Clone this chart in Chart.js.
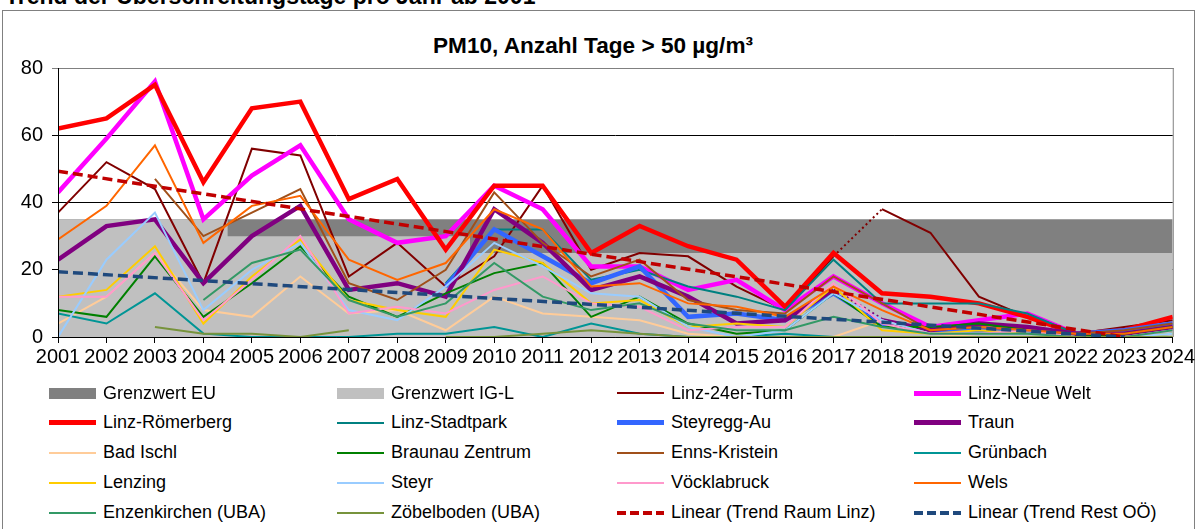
<!DOCTYPE html>
<html lang="de">
<head>
<meta charset="utf-8">
<title>PM10, Anzahl Tage &gt; 50 µg/m³</title>
<script src="https://cdn.jsdelivr.net/npm/chart.js@4.4.1/dist/chart.umd.min.js"></script>
<style>
  html, body { margin: 0; padding: 0; background: #fff; }
  body { width: 1197px; height: 529px; overflow: hidden; position: relative; font-family: "Liberation Sans", Arial, sans-serif; color: #000; }
  #heading { position: absolute; left: 5px; top: -17px; font-size: 23px; font-weight: bold; white-space: nowrap; }
  #frame { position: absolute; left: 2px; top: 10px; width: 1191px; height: 540px; border: 1px solid #808080; }
  #title { position: absolute; left: 0; width: 1186px; top: 33px; text-align: center; font-size: 22.6px; font-weight: bold; white-space: nowrap; }
  #chart { position: absolute; left: 0; top: 0; }
  .item { position: absolute; display: flex; align-items: center; height: 30px; font-size: 18px; white-space: nowrap; }
  .sym { display: inline-block; width: 47px; margin-right: 7px; }
</style>
</head>
<body>
<div id="heading">Trend der Überschreitungstage pro Jahr ab 2001</div>
<div id="frame"></div>
<div id="title">PM10, Anzahl Tage &gt; 50 µg/m³</div>
<canvas id="chart" width="1197" height="380"></canvas>
<div id="legend"></div>
<script>
const years = [2001, 2002, 2003, 2004, 2005, 2006, 2007, 2008, 2009, 2010, 2011, 2012,
  2013, 2014, 2015, 2016, 2017, 2018, 2019, 2020, 2021, 2022, 2023, 2024]

// limit values (days per year)
const grenzwertEU = [35, 35, 35, 35, 35, 35, 35, 35, 35, 35, 35, 35, 35, 35, 35, 35, 35, 35, 35, 35, 35, 35, 35, 35]
const grenzwertIGL = [35, 35, 35, 35, 30, 30, 30, 30, 30, 25, 25, 25, 25, 25, 25, 25, 25, 25, 25, 25, 25, 25, 25, 25]

// stations
const linz24erTurm = [37, 52, 44, 16, 56, 54, 18, 28, 15, 24, 45, 20, 25, 24, 15, 8, 24, 38, 31, 12, 6, 1, 3, 5]
const linzNeueWelt = [43, 59, 76, 35, 48, 57, 35, 28, 30, 45, 38, 21, 21, 14, 17, 8, 18, 10, 3, 5, 7, 1, 1, 3]
const linzRoemerberg = [62, 65, 75, 46, 68, 70, 41, 47, 26, 45, 45, 25, 33, 27, 23, 9, 25, 13, 12, 10, 6, 1, 2, 6]
const linzStadtpark = [null, null, null, null, null, null, null, null, 16, 32, 32, 17, 20, 15, 12, 8, 23, 10, 10, 10, 7, 1, 1, 3]
const steyreggAu = [null, null, null, null, null, null, null, null, 15, 32, 24, 16, 21, 6, 7, 5, 13, 4, 2, 2, 2, 1, 2, 4]
const traun = [23, 33, 35, 16, 30, 39, 14, 16, 12, 38, 28, 14, 18, 12, 4, 5, 14, 5, 2, 4, 3, 1, 1, 3]
const badIschl = [4, 12, 25, 8, 6, 18, 7, 8, 2, 12, 7, 6, 5, 1, 0, 0, 0, 5, 1, 0, 0, 0, 0, 0]
const braunauZentrum = [8, 6, 24, 6, 16, 27, 12, 6, 13, 19, 22, 6, 12, 4, 1, 2, 13, 3, 3, 4, 2, 0, 1, 3]
const ennsKristein = [null, null, 47, 30, 37, 44, 16, 11, 20, 43, 28, 18, 23, 11, 8, 7, 18, 10, 2, 3, 2, 1, 2, 4]
const gruenbach = [7, 4, 13, 1, 0, 0, 0, 1, 1, 3, 0, 4, 1, 0, 0, 1, 0, 0, 0, 0, 0, 0, 0, 1]
const lenzing = [12, 14, 27, 4, 18, 29, 11, 8, 6, 26, 22, 10, 11, 3, 4, 3, 15, 2, 1, 2, 1, 0, 0, 1]
const steyr = [0, 23, 37, 8, 20, 28, 8, 5, 15, 28, 21, 13, 12, 3, 0, 2, 13, 5, 1, 1, 1, 0, 0, 1]
const voecklabruck = [12, 12, 25, 5, 17, 30, 7, 9, 7, 14, 18, 10, 9, 2, 3, 3, 16, 4, 1, 1, 2, 0, 0, 2]
const wels = [29, 39, 57, 28, 39, 42, 23, 17, 22, 38, 32, 15, 16, 10, 9, 6, 15, 8, 2, 3, 2, 1, 1, 3]
const enzenkirchen = [null, null, null, 11, 22, 26, 11, 6, 10, 22, 12, 8, 10, 4, 2, 2, 6, 3, 1, 1, 1, 0, 0, 2]
const zoebelboden = [null, null, 3, 1, 1, 0, 2, null, 0, 0, 1, 2, 1, 0, 0, 0, 0, 0, 0, 0, 0, 0, 0, 0]

// linear trends, start and end point
const trendYears = [2001, 2023]
const trendRaumLinz = [49.3, 0]
const trendRestOOe = [19.4, 0]

const yTicks = [0, 20, 40, 60, 80]

const thin = 2
const thick = 4.5
const legendColumns = [49, 337, 617, 914]

const line = (label, data, color, width, extra = {}) => ({
  label: label,
  data: data,
  borderColor: color,
  backgroundColor: color,
  borderWidth: width,
  pointRadius: 0,
  tension: 0,
  fill: false,
  ...extra,
})

const area = (label, data, color) => ({
  label: label,
  data: data,
  borderWidth: 0,
  borderColor: color,
  backgroundColor: color,
  pointRadius: 0,
  stepped: "middle",
  fill: "origin",
})

// dotted segment after the given point index
const dottedAfter = index => ({ borderDash: ctx => ctx.p0DataIndex === index ? [2, 3] : undefined })

const trend = (label, values, color) => line(label, trendYears.map((x, i) => ({ x: x, y: values[i] })), color, 3.5, {
  borderDash: [10, 5],
  borderCapStyle: "butt",
})

const datasets = [
  area("Grenzwert EU", grenzwertEU, "#808080"),
  area("Grenzwert IG-L", grenzwertIGL, "#C0C0C0"),
  line("Linz-24er-Turm", linz24erTurm, "#800000", thin, { segment: dottedAfter(16) }),
  line("Linz-Neue Welt", linzNeueWelt, "#FF00FF", thick),
  line("Linz-Römerberg", linzRoemerberg, "#FF0000", thick),
  line("Linz-Stadtpark", linzStadtpark, "#008080", thin),
  line("Steyregg-Au", steyreggAu, "#3366FF", thick),
  line("Traun", traun, "#800080", thick, { segment: dottedAfter(16) }),
  line("Bad Ischl", badIschl, "#FFCC99", thin),
  line("Braunau Zentrum", braunauZentrum, "#008000", thin),
  line("Enns-Kristein", ennsKristein, "#A0501A", thin),
  line("Grünbach", gruenbach, "#009595", thin),
  line("Lenzing", lenzing, "#FFCC00", thin),
  line("Steyr", steyr, "#99CCFF", thin),
  line("Vöcklabruck", voecklabruck, "#FF99CC", thin),
  line("Wels", wels, "#FF6600", thin),
  line("Enzenkirchen (UBA)", enzenkirchen, "#339966", thin),
  line("Zöbelboden (UBA)", zoebelboden, "#77933C", thin),
  trend("Linear (Trend Raum Linz)", trendRaumLinz, "#C00000"),
  trend("Linear (Trend Rest OÖ)", trendRestOOe, "#1F497D"),
]

// later series are painted on top, like in the spreadsheet
datasets.forEach((ds, i) => { ds.order = datasets.length - i })

const plotFrame = {
  id: "plotFrame",
  beforeDatasetsDraw(chart) {
    const { ctx, chartArea: { left, right, top, bottom } } = chart
    ctx.save()
    ctx.lineWidth = 1
    ctx.strokeStyle = "#808080"
    ctx.beginPath()
    ctx.moveTo(left, top + 0.5)
    ctx.lineTo(right + 1, top + 0.5)
    ctx.moveTo(right + 0.5, top)
    ctx.lineTo(right + 0.5, bottom)
    ctx.stroke()
    ctx.restore()
  },
  afterDatasetsDraw(chart) {
    const { ctx, chartArea: { left, top, bottom } } = chart
    ctx.save()
    ctx.lineWidth = 1
    ctx.strokeStyle = "#000"
    ctx.beginPath()
    ctx.moveTo(left + 0.5, top)
    ctx.lineTo(left + 0.5, bottom + 1)
    ctx.stroke()
    ctx.restore()
  },
}

Chart.defaults.font.family = '"Liberation Sans", Arial, sans-serif'
Chart.defaults.color = "#000"

const chart = new Chart(document.getElementById("chart"), {
  type: "line",
  data: { labels: years, datasets: datasets },
  plugins: [plotFrame],
  options: {
    responsive: false,
    animation: false,
    events: [],
    layout: { padding: { top: 68, right: 22, bottom: 0, left: 0 } },
    plugins: {
      legend: { display: false },
      tooltip: { enabled: false },
      title: { display: false },
    },
    scales: {
      x: {
        type: "linear",
        min: years[0],
        max: years[years.length - 1],
        afterFit: scale => { scale.height = 43 },
        border: { color: "#000" },
        grid: { drawOnChartArea: false, drawTicks: true, tickLength: 6, color: "#000" },
        ticks: {
          stepSize: 1,
          autoSkip: false,
          maxRotation: 0,
          padding: 2,
          color: "#000",
          font: { size: 20 },
          callback: value => String(value),
        },
      },
      y: {
        min: yTicks[0],
        max: yTicks[yTicks.length - 1],
        afterFit: scale => { scale.width = 58 },
        afterBuildTicks: scale => { scale.ticks = yTicks.map(v => ({ value: v })) },
        border: { display: false },
        grid: {
          tickLength: 6,
          color: ctx => (ctx.tick && ctx.tick.value === 80 ? "#808080" : "#000"),
        },
        ticks: { padding: 9, color: "#000", font: { size: 20 } },
      },
    },
  },
})

const buildLegend = chart => {
  const legendEl = document.getElementById("legend")

  chart.data.datasets.forEach((ds, i) => {
    const item = document.createElement("div")
    item.className = "item"
    item.style.left = legendColumns[i % 4] + "px"
    item.style.top = 378 + Math.floor(i / 4) * 29.9 + "px"

    const sym = document.createElement("span")
    sym.className = "sym"
    if (ds.fill) {
      sym.style.height = "11px"
      sym.style.background = ds.backgroundColor
    } else if (ds.borderDash) {
      sym.style.height = Math.round(ds.borderWidth) + "px"
      sym.style.background = `repeating-linear-gradient(90deg, ${ds.borderColor} 0 9px, transparent 9px 13px)`
    } else {
      sym.style.height = Math.round(ds.borderWidth) + "px"
      sym.style.background = ds.borderColor
    }

    item.appendChild(sym)
    item.appendChild(document.createTextNode(ds.label))
    legendEl.appendChild(item)
  })
}

buildLegend(chart)
</script>
</body>
</html>
